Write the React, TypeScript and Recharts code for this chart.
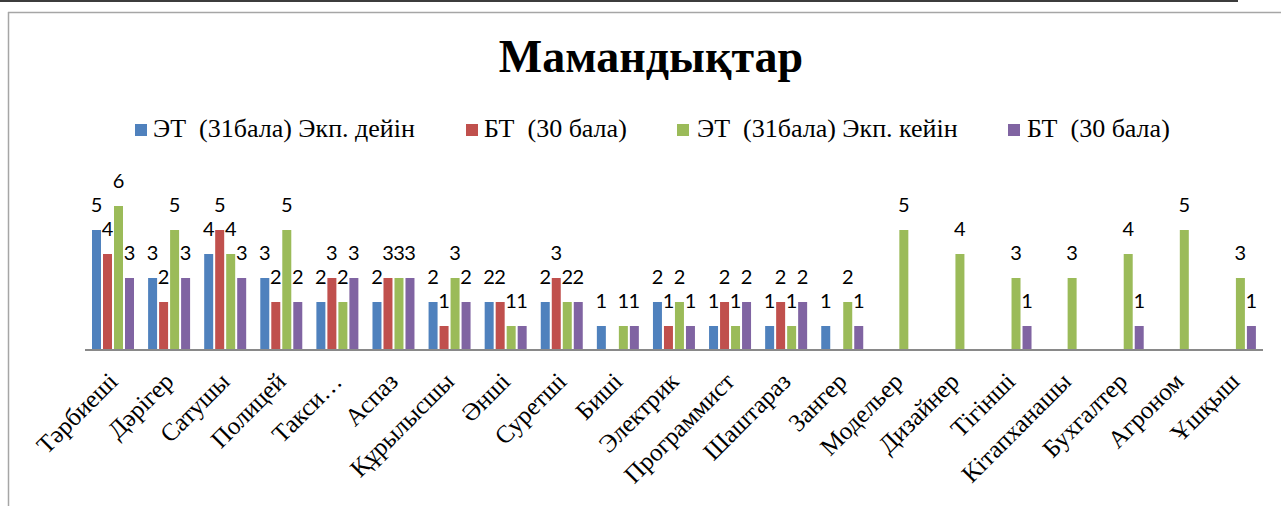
import { BarChart, Bar, XAxis, YAxis, LabelList } from 'recharts';

// Мамандықтар — ЭТ/БТ топтары, эксперименттен дейін және кейін
const categories = [
  'Тәрбиеші', 'Дәрігер', 'Сатушы', 'Полицей', 'Такси…', 'Аспаз', 'Құрылысшы', 'Әнші',
  'Суретші', 'Биші', 'Электрик', 'Программист', 'Шаштараз', 'Зангер', 'Модельер',
  'Дизайнер', 'Тігінші', 'Кітапханашы', 'Бухгалтер', 'Агроном', 'Ұшқыш',
];

const etBefore = [5, 3, 4, 3, 2, 2, 2, 2, 2, 1, 2, 1, 1, 1, null, null, null, null, null, null, null];
const btBefore = [4, 2, 5, 2, 3, 3, 1, 2, 3, null, 1, 2, 2, null, null, null, null, null, null, null, null];
const etAfter = [6, 5, 4, 5, 2, 3, 3, 1, 2, 1, 2, 1, 1, 2, 5, 4, 3, 3, 4, 5, 3];
const btAfter = [3, 3, 3, 2, 3, 3, 2, 1, 2, 1, 1, 2, 2, 1, null, null, 1, null, 1, null, 1];

const seriesNames = ['ЭТ  (31бала) Экп. дейін', 'БТ  (30 бала)', 'ЭТ  (31бала) Экп. кейін', 'БТ  (30 бала)'];
const colors = ['#4F81BD', '#C0504D', '#9BBB59', '#8064A2'];

const data = categories.map((name, i) => ({
  name,
  a: etBefore[i],
  b: btBefore[i],
  c: etAfter[i],
  d: btAfter[i],
}));

const serif = '"Liberation Serif", "Times New Roman", serif';

const AngledTick = (props: any) => {
  const { x, y, payload } = props;
  const tx = x + 6;
  const ty = y + 25;
  return (
    <text
      x={tx}
      y={ty}
      transform={`rotate(-45 ${tx} ${ty})`}
      textAnchor="end"
      fontFamily={serif}
      fontSize={25}
      fill="#000"
    >
      {payload.value}
    </text>
  );
};

// legend item positions (px)
const legendPos = [
  { sq: 135, tx: 153 },
  { sq: 466, tx: 484 },
  { sq: 677, tx: 697 },
  { sq: 1008, tx: 1027 },
];

export default function App() {
  return (
    <div style={{ position: 'absolute', left: 0, top: 0, width: 1281, height: 506, background: '#fff', overflow: 'hidden' }}>
      <BarChart
        width={1281}
        height={506}
        data={data}
        margin={{ top: 182, right: 18, left: 85, bottom: 0 }}
        barSize={9}
        barGap={2}
      >
        <XAxis
          dataKey="name"
          interval={0}
          height={156}
          tickLine={false}
          axisLine={{ stroke: '#898989', strokeWidth: 2 }}
          tick={<AngledTick />}
        />
        <YAxis hide domain={[0, 7]} />
        {['a', 'b', 'c', 'd'].map((key, idx) => (
          <Bar key={key} dataKey={key} fill={colors[idx]} isAnimationActive={false}>
            <LabelList
              dataKey={key}
              position="top"
              offset={18}
              fill="#000"
              fontSize={20}
              fontFamily="Lato, 'Liberation Sans', sans-serif"
            />
          </Bar>
        ))}
      </BarChart>

      <svg width={1281} height={506} style={{ position: 'absolute', left: 0, top: 0, pointerEvents: 'none' }}>
        <line x1={0} y1={1} x2={1238} y2={1} stroke="#3c3c3c" strokeWidth={2} />
        <line x1={8} y1={12.5} x2={1281} y2={12.5} stroke="#a6a6a6" strokeWidth={1.5} />
        <line x1={8.5} y1={12} x2={8.5} y2={506} stroke="#a6a6a6" strokeWidth={1.5} />
        <text x={651} y={72} textAnchor="middle" fontFamily={serif} fontWeight="bold" fontSize={46} fill="#000">
          Мамандықтар
        </text>
        {seriesNames.map((n, i) => (
          <g key={i}>
            <rect x={legendPos[i].sq} y={124} width={12} height={12} fill={colors[i]} />
            <text x={legendPos[i].tx} y={137} fontFamily={serif} fontSize={26} fill="#000" style={{ whiteSpace: 'pre' }}>
              {n}
            </text>
          </g>
        ))}
      </svg>
    </div>
  );
}
